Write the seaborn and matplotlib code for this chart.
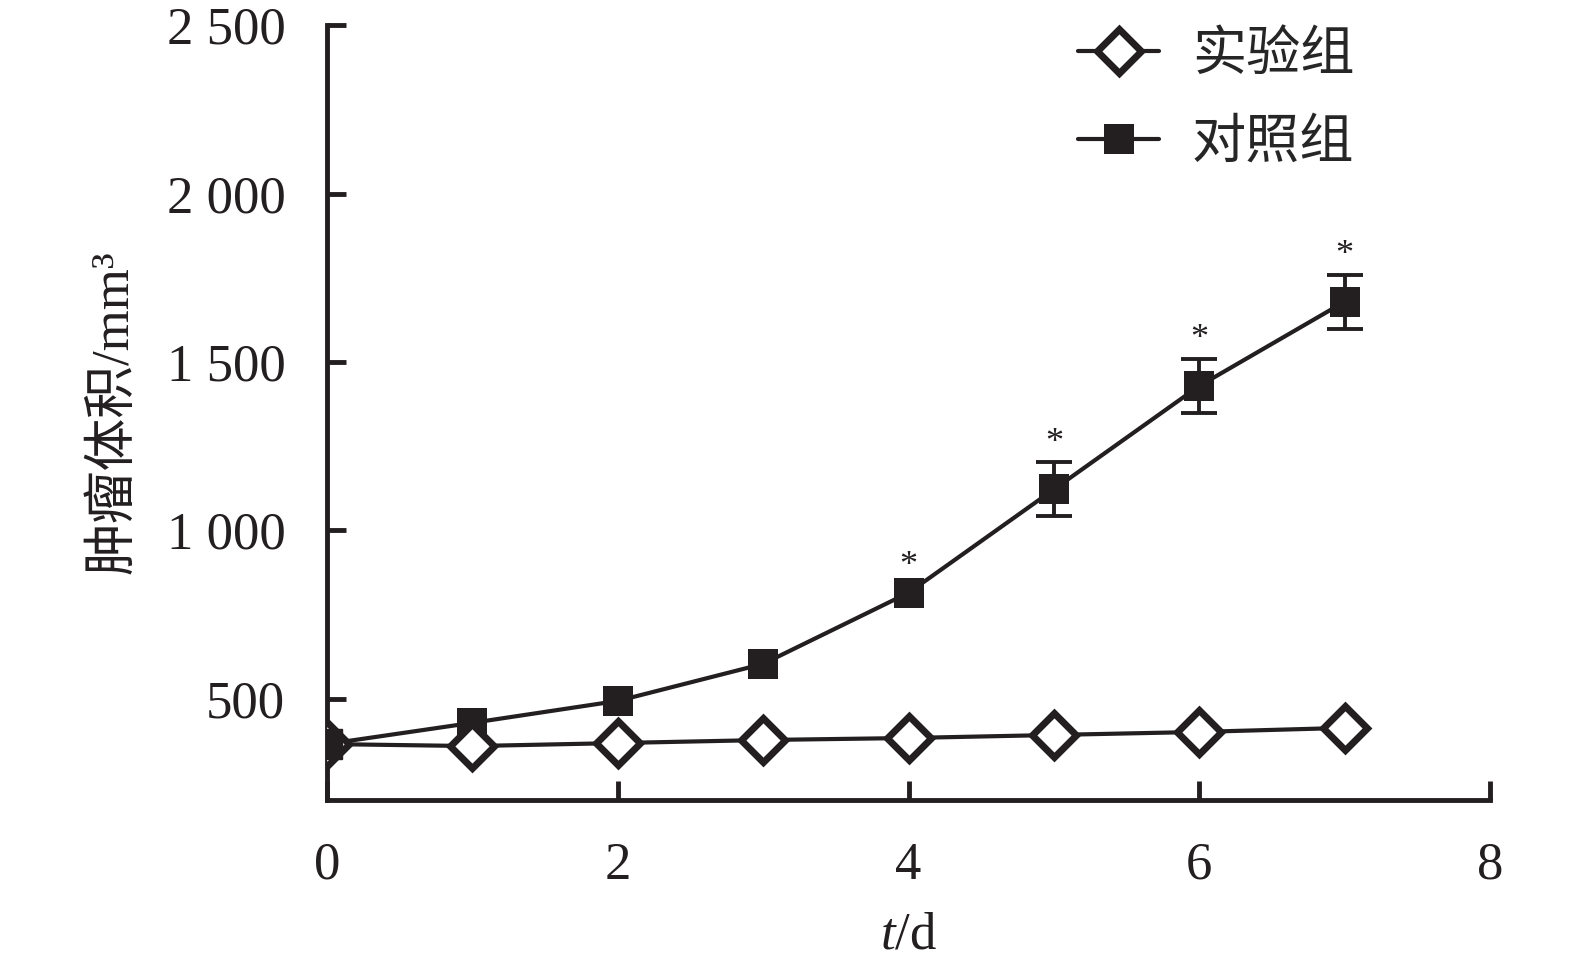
import numpy as np
import pandas as pd
import matplotlib
matplotlib.use("Agg")
import matplotlib.pyplot as plt
import seaborn as sns
from matplotlib.ticker import FuncFormatter

# data
days = [0, 1, 2, 3, 4, 5, 6, 7]
exp_vol = [366, 360, 369, 378, 384, 393, 402, 414]
ctrl_vol = [366, 429, 494, 604, 815, 1122, 1429, 1679]
ctrl_sd = [np.nan, np.nan, np.nan, np.nan, np.nan, 80, 80, 80]
star_days = [4, 5, 6, 7]
labels = ["实验组", "对照组"]

sns.set_theme(style="white")
plt.rcParams["font.family"] = ["Liberation Serif", "Noto Sans CJK SC"]
plt.rcParams["mathtext.fontset"] = "custom"
plt.rcParams["mathtext.it"] = "Liberation Serif:italic"
plt.rcParams["mathtext.rm"] = "Liberation Serif"

df = pd.DataFrame({"day": days, "exp": exp_vol, "ctrl": ctrl_vol, "sd": ctrl_sd})

fig = plt.figure(figsize=(15.75, 9.65), dpi=100)
ax = fig.add_axes([0.2076, 0.171, 0.7385, 0.803])

# control group with error bars
ax.errorbar(df["day"], df["ctrl"], yerr=df["sd"], fmt="none", ecolor="#231f20",
            elinewidth=2.8, capsize=13, capthick=2.8, zorder=2)
sns.lineplot(data=df, x="day", y="ctrl", ax=ax, color="#231f20", lw=3,
             marker="s", markersize=22, markeredgewidth=0, label=labels[1], zorder=3)
# experimental group
sns.lineplot(data=df, x="day", y="exp", ax=ax, color="#231f20", lw=3,
             marker="D", markersize=22, markerfacecolor="white",
             markeredgecolor="#231f20", markeredgewidth=5, label=labels[0], zorder=4)
# day 0 point shows the filled square over the diamond
ax.plot(df["day"][:1], df["ctrl"][:1], marker="s", markersize=22, color="#231f20",
        ls="none", zorder=5)

# significance marks
for d in star_days:
    i = days.index(d)
    sd = ctrl_sd[i]
    top = ctrl_vol[i] + (0 if np.isnan(sd) else sd)
    off = 7 if np.isnan(sd) else 2
    ax.annotate("*", (d, top), xytext=(0, off), textcoords="offset points",
                ha="center", va="bottom", fontsize=26, color="#231f20")

ax.set_xlim(0, 8)
ax.set_ylim(200, 2500)
ax.set_xticks([0, 2, 4, 6, 8])
ax.set_yticks([500, 1000, 1500, 2000, 2500])
ax.yaxis.set_major_formatter(FuncFormatter(lambda v, p: f"{int(v):,}".replace(",", " ")))

sns.despine(ax=ax)
for s in ["left", "bottom"]:
    ax.spines[s].set_linewidth(3.5)
    ax.spines[s].set_color("#231f20")
ax.tick_params(axis="both", direction="in", length=14, width=3.5, color="#231f20",
               labelsize=38, labelcolor="#231f20", bottom=True, left=True)
ax.tick_params(axis="y", pad=30)
ax.tick_params(axis="x", pad=30)

ax.set_xlabel("$t$/d", fontsize=38, color="#231f20", labelpad=16)
ax.set_ylabel("肿瘤体积/mm³", fontsize=38, color="#231f20", labelpad=20)

h, l = ax.get_legend_handles_labels()
order = [l.index(labels[0]), l.index(labels[1])]
ax.legend([h[i] for i in order], [l[i] for i in order], loc="upper right",
          bbox_to_anchor=(0.925, 1.06), frameon=False,
          handlelength=1.5, handletextpad=0.6, labelspacing=0.6,
          prop={"family": ["Noto Sans CJK SC"], "size": 39})

fig.savefig("out.png", dpi=100)
